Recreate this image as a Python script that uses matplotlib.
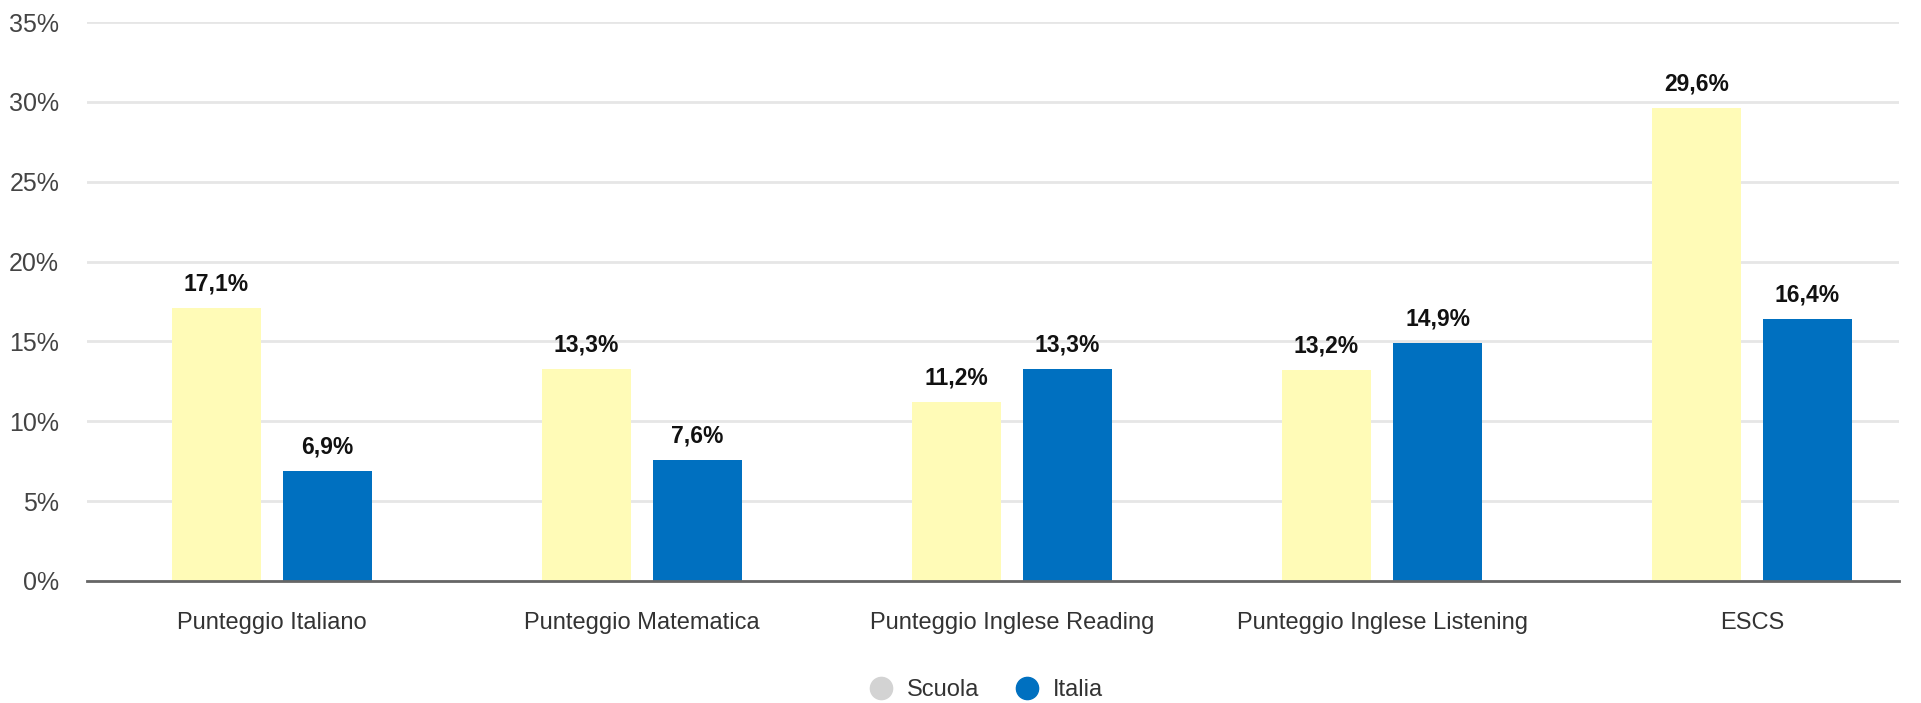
import matplotlib.pyplot as plt
from matplotlib.lines import Line2D
import numpy as np

categories = ["Punteggio Italiano", "Punteggio Matematica", "Punteggio Inglese Reading",
              "Punteggio Inglese Listening", "ESCS"]
scuola = [17.1, 13.3, 11.2, 13.2, 29.6]
italia = [6.9, 7.6, 13.3, 14.9, 16.4]
yticks = [0, 5, 10, 15, 20, 25, 30, 35]

plt.rcParams['font.family'] = ['Liberation Sans', 'DejaVu Sans']

W, H = 1921, 703
fig = plt.figure(figsize=(W / 100, H / 100), dpi=100)
ax = fig.add_axes([87 / W, (H - 581) / H, (1899 - 87) / W, (581 - 22) / H])

x = np.arange(len(categories))
bw = 0.24
off = 0.15
yellow = "#FFFBB7"
blue = "#0070C0"

b1 = ax.bar(x - off, scuola, bw, color=yellow, zorder=3)
b2 = ax.bar(x + off, italia, bw, color=blue, zorder=3)

for bars, vals in [(b1, scuola), (b2, italia)]:
    for rect, v in zip(bars, vals):
        ax.annotate(f"{v:.1f}%".replace(".", ","),
                    (rect.get_x() + rect.get_width() / 2, rect.get_height()),
                    xytext=(0, 9), textcoords="offset points",
                    ha="center", va="bottom", fontsize=16.5, fontweight="bold",
                    color="#111111")

ax.set_xlim(-0.5, (1899 - 272) / 370)
ax.set_ylim(0, 35)
ax.set_yticks(yticks)
ax.set_yticklabels([f"{t}%" for t in yticks])
ax.set_xticks(x)
ax.set_xticklabels(categories)

ax.tick_params(axis="y", length=0, pad=20, labelsize=18, labelcolor="#444444")
ax.tick_params(axis="x", length=0, pad=22, labelsize=17, labelcolor="#333333")
ax.grid(axis="y", color="#e6e6e6", linewidth=2, zorder=0)
for s in ["top", "right", "left"]:
    ax.spines[s].set_visible(False)
ax.spines["bottom"].set_color("#666666")
ax.spines["bottom"].set_linewidth(2)
ax.spines["bottom"].set_zorder(4)

handles = [Line2D([], [], marker="o", linestyle="", markersize=16, color="#d3d3d3"),
           Line2D([], [], marker="o", linestyle="", markersize=16, color=blue)]
fig.legend(handles, ["Scuola", "Italia"], loc="center", bbox_to_anchor=(980 / W, 1 - 690 / H),
           ncol=2, frameon=False, fontsize=17, handletextpad=0.1, columnspacing=1.0,
           labelcolor="#333333")

fig.savefig("out.png", dpi=100)
